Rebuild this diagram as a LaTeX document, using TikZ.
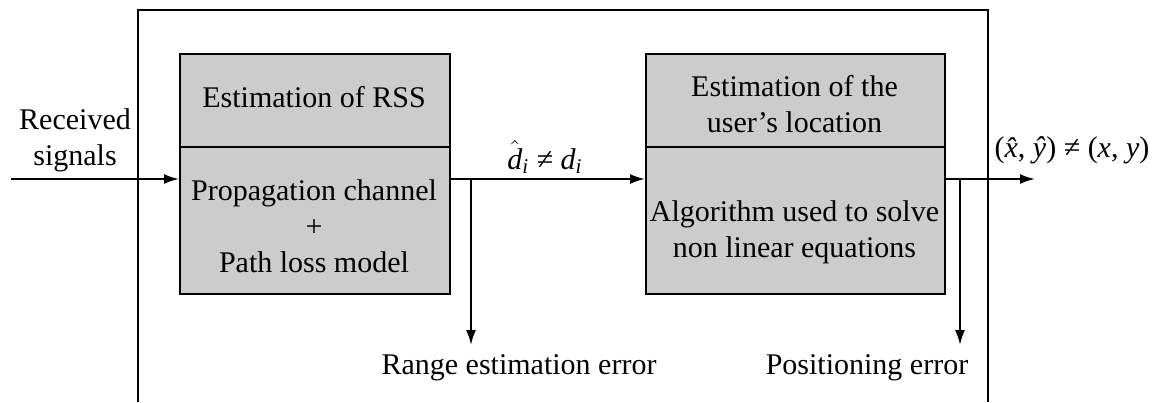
\documentclass[tikz,border=0pt]{standalone}
\usepackage{fontspec}
\setmainfont{Liberation Serif}
\usetikzlibrary{arrows.meta}
% italic symbol with a circumflex accent
\newcommand{\hatit}[1]{\textit{\^{#1}}}
\begin{document}
\begin{tikzpicture}[x=0.5pt,y=-0.5pt,
  txt/.style={font=\fontsize{15}{18}\selectfont, align=center, inner sep=0pt},
  blk/.style={draw, line width=1pt, fill=gray!40, anchor=north west, inner sep=0pt},
  arr/.style={line width=1pt, -{Latex[length=7.5pt,width=5pt]}},
  ln/.style={line width=1pt}]
\useasboundingbox (0,0) rectangle (1155,402);

% enclosing frame (open at the bottom)
\draw[ln] (138,402) -- (138,10) -- (988,10) -- (988,402);

% RSS estimation block
\node[blk, minimum width=135pt, minimum height=46.5pt] (rss) at (179,53) {};
\node[blk, minimum width=135pt, minimum height=73.5pt] (prop) at (179,146) {};
% location estimation block
\node[blk, minimum width=149.5pt, minimum height=46.5pt] (loc) at (645,53) {};
\node[blk, minimum width=149.5pt, minimum height=73.5pt] (algo) at (645,146) {};

% block texts
\node[txt] (trss) at (314,97) {Estimation of RSS};
\node[txt] (tprop) at (314,226) {Propagation channel\\+\\Path loss model};
\node[txt] (tloc) at (794.5,104) {Estimation of the\\user’s location};
\node[txt] (talgo) at (794.5,232) {Algorithm used to solve\\non linear equations};

% signal labels
\node[txt] (recv) at (75,140) {Received\\signals};
\node[txt] (dist) at (545,157) {$\hat{\mathit{d}}_{\mathit{i}}$ ≠ $\mathit{d}_{\mathit{i}}$};
\node[txt] (pos) at (1072,150) {(\hatit{x}, \hatit{y}) ≠ (\textit{x}, \textit{y})};
\node[txt] (rerr) at (519,368) {Range estimation error};
\node[txt] (perr) at (867,368) {Positioning error};

% connectors
\coordinate (in) at (11,179);
\coordinate (out) at (1035,179);
\coordinate (b1) at (471,179);
\coordinate (b2) at (960,179);
\coordinate (e1) at (471,345);
\coordinate (e2) at (960,345);

\draw[arr] (in) -- (in -| prop.west);
\draw[arr] (prop.east |- in) -- (algo.west |- in);
\draw[arr] (algo.east |- in) -- (out);
\draw[arr] (b1) -- (e1);
\draw[arr] (b2) -- (e2);
\end{tikzpicture}
\end{document}
